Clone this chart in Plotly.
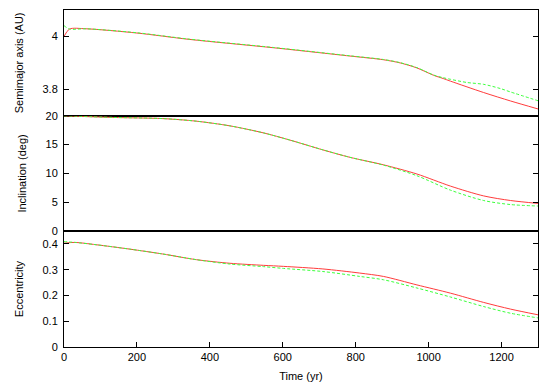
import plotly.graph_objects as go

# Semimajor axis (AU)
t_a_red = [0, 15, 60, 200, 343, 577, 784, 876, 922, 968, 1014, 1040, 1060, 1151, 1225, 1300]
a_red = [4.000, 4.028, 4.029, 4.013, 3.989, 3.957, 3.926, 3.912, 3.900, 3.881, 3.853, 3.841, 3.831, 3.788, 3.756, 3.726]
t_a_green = [0, 15, 60, 200, 343, 577, 784, 876, 922, 968, 1014, 1040, 1060, 1105, 1151, 1197, 1225, 1300]
a_green = [4.041, 4.028, 4.029, 4.014, 3.990, 3.958, 3.927, 3.913, 3.901, 3.882, 3.854, 3.844, 3.838, 3.826, 3.819, 3.803, 3.790, 3.757]

# Inclination (deg)
t_i = [0, 134, 271, 363, 455, 547, 619, 710, 784, 876, 968, 1060, 1151, 1225, 1300]
i_red = [20.0, 19.72, 19.52, 19.07, 18.26, 17.04, 15.8, 14.09, 12.8, 11.5, 9.9, 7.8, 6.1, 5.3, 4.8]
i_green = [20.0, 19.72, 19.52, 19.07, 18.26, 17.04, 15.8, 14.09, 12.8, 11.45, 9.6, 7.1, 5.3, 4.6, 4.35]

# Eccentricity
t_e = [0, 30, 88, 180, 271, 363, 455, 547, 602, 710, 811, 876, 968, 1060, 1151, 1225, 1300]
e_red = [0.403, 0.406, 0.397, 0.380, 0.361, 0.339, 0.325, 0.317, 0.313, 0.303, 0.287, 0.274, 0.241, 0.209, 0.173, 0.147, 0.125]
e_green = [0.409, 0.406, 0.397, 0.380, 0.361, 0.339, 0.322, 0.312, 0.305, 0.293, 0.274, 0.261, 0.229, 0.194, 0.157, 0.131, 0.113]

x_ticks = [0, 200, 400, 600, 800, 1000, 1200]

RED = "rgb(255,60,60)"
GREEN = "rgb(60,255,60)"

fig = go.Figure()

def add_pair(tr, yr, tg, yg, xa, ya):
    fig.add_trace(go.Scatter(x=tr, y=yr, mode="lines", line=dict(color=RED, width=1, shape="spline", smoothing=0.8),
                             xaxis=xa, yaxis=ya, showlegend=False))
    fig.add_trace(go.Scatter(x=tg, y=yg, mode="lines", line=dict(color=GREEN, width=1, dash="3px,2px", shape="spline", smoothing=0.8),
                             xaxis=xa, yaxis=ya, showlegend=False))

add_pair(t_a_red, a_red, t_a_green, a_green, "x", "y")
add_pair(t_i, i_red, t_i, i_green, "x2", "y2")
add_pair(t_e, e_red, t_e, e_green, "x3", "y3")

font = dict(family="Liberation Sans, Arial, sans-serif", size=11, color="black")

common_x = dict(range=[0, 1300], showgrid=False, zeroline=False, showline=True, mirror=True,
                linecolor="black", linewidth=1, tickvals=x_ticks, ticks="inside", ticklen=5,
                tickcolor="black", tickfont=font, automargin=False)
common_y = dict(showgrid=False, zeroline=False, showline=True, mirror="ticks", linecolor="black",
                linewidth=1, ticks="inside", ticklen=5, tickcolor="black", tickfont=font,
                ticklabelstandoff=3, title_font=font, title_standoff=16, automargin=False)

dom_top = [0.686, 1.0]
dom_mid = [0.344, 0.686]
dom_bot = [0.0, 0.344]

# page body has an 8px default margin; compensate so the plot lands where the reference has it
fig.update_layout(
    width=550, height=386,
    margin=dict(l=56, r=20, t=2, b=47),
    plot_bgcolor="white", paper_bgcolor="white",
    font=font,
    xaxis=dict(common_x, anchor="y", showticklabels=False, ticks=""),
    xaxis2=dict(common_x, anchor="y2", matches="x", showticklabels=False, ticks=""),
    xaxis3=dict(common_x, anchor="y3", matches="x", title=dict(text="Time (yr)", font=font, standoff=10)),
    yaxis=dict(common_y, domain=dom_top, range=[3.7, 4.1], tickvals=[3.8, 4.0], ticktext=["3.8", "4"],
               title=dict(text="Semimajor axis (AU)")),
    yaxis2=dict(common_y, domain=dom_mid, range=[0, 20], tickvals=[0, 5, 10, 15, 20],
                title=dict(text="Inclination (deg)")),
    yaxis3=dict(common_y, domain=dom_bot, range=[0, 0.45], tickvals=[0, 0.1, 0.2, 0.3, 0.4],
                ticktext=["0", "0.1", "0.2", "0.3", "0.4"], title=dict(text="Eccentricity")),
)

fig.write_html("out.html")
